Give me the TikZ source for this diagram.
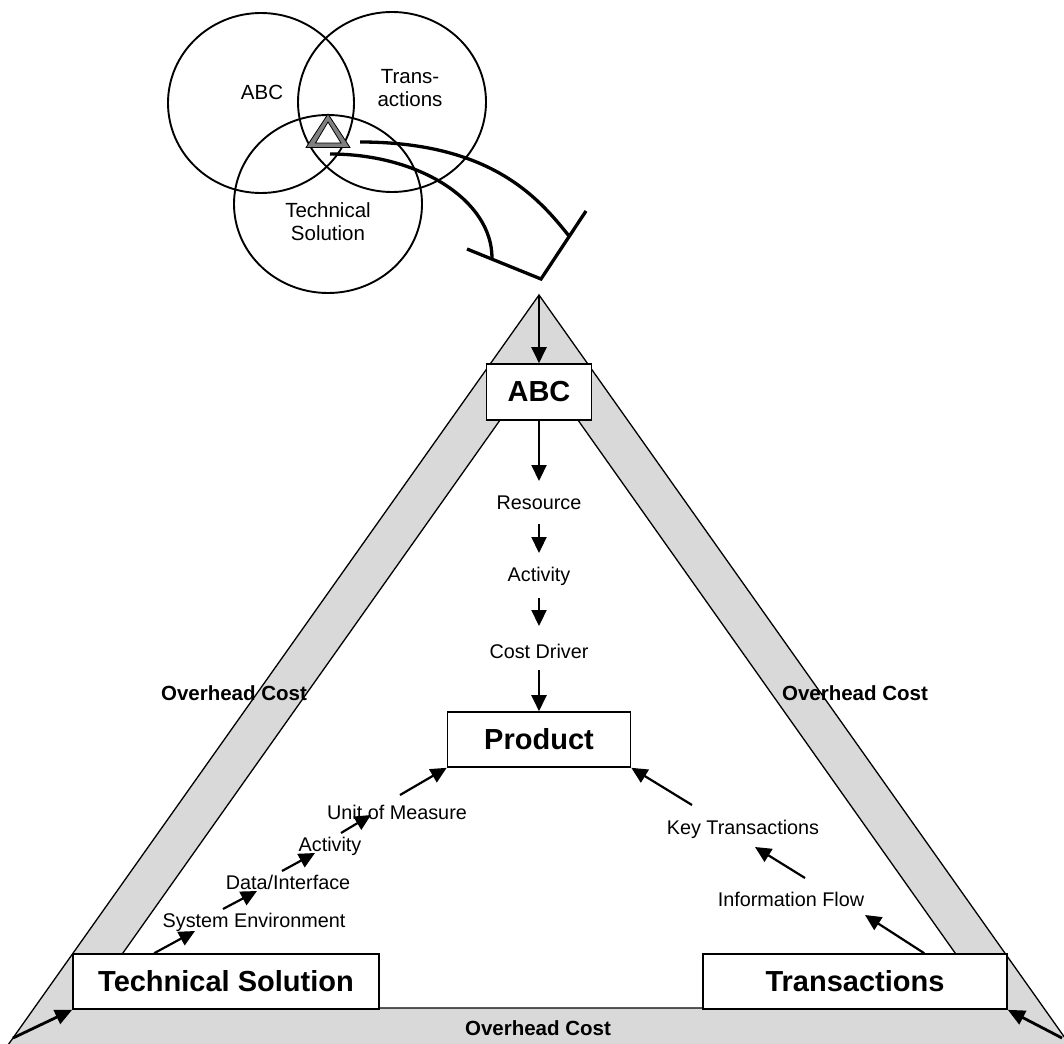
\documentclass[tikz,border=0pt]{standalone}
\usepackage{fontspec}
\setmainfont{Liberation Sans}
\usetikzlibrary{arrows.meta,calc}
\definecolor{bandgray}{RGB}{217,217,217}
\definecolor{markgray}{RGB}{128,128,128}

\begin{document}
\begin{tikzpicture}[x=1pt,y=-1pt,
  arr/.style={line width=2.2pt,-{Triangle[length=16pt,width=15pt]}},
  bigarr/.style={line width=2.8pt,-{Triangle[length=17pt,width=15pt]}},
  box/.style={draw,line width=1.6pt,fill=white,inner sep=0pt,
    font=\fontsize{29}{33}\selectfont\bfseries},
  lbl/.style={inner sep=0pt,font=\fontsize{19.8}{23}\selectfont},
  ovh/.style={inner sep=0pt,font=\fontsize{20.5}{24}\selectfont\bfseries},
  venn/.style={line width=1.9pt},
  vlbl/.style={inner sep=0pt,align=center,font=\fontsize{20.5}{22.5}\selectfont},
  tong/.style={line width=3.3pt}]

\useasboundingbox (0,0) rectangle (1064,1043);

% ---------- Venn diagram of the three views ----------
\draw[venn] (261,103) ellipse [x radius=93pt, y radius=90pt];
\draw[venn] (392,102) ellipse [x radius=94pt, y radius=90pt];
\draw[venn] (328,204) ellipse [x radius=94pt, y radius=89pt];
\node[vlbl] (vabc) at (262,92) {ABC};
\node[vlbl] (vtr) at (410,88) {Trans-\\actions};
\node[vlbl] (vts) at (328,221.5) {Technical\\Solution};

% tongs reaching from the common centre to the pyramid
\draw[tong] (360,142) .. controls (490,142) and (538,197) .. (569,236);
\draw[tong] (330,154) .. controls (419.5,154) and (492,200.6) .. (492,258);
\draw[tong,line join=miter] (467,249) -- (541,279) -- (586,211);

% small triangle marking the intersection
\filldraw[fill=markgray,draw=black,line width=0.8pt]
  (328,114) -- (306,147.5) -- (350,147.5) -- cycle;
\filldraw[fill=white,draw=black,line width=0.8pt]
  (328,122) -- (315.5,143) -- (341,143) -- cycle;

% ---------- overhead cost pyramid ----------
\coordinate (apex) at (539,295);
\fill[bandgray] (apex) -- (7.3,1046) -- (1070.7,1046) -- cycle;
\draw[line width=1.3pt] (7.3,1046) -- (apex) -- (1070.7,1046);
\filldraw[fill=white,line width=1.3pt] (539,365) -- (84,1008) -- (994,1008) -- cycle;

\node[ovh] (ohl) at (234,693) {Overhead Cost};
\node[ovh] (ohr) at (855,693) {Overhead Cost};
\node[ovh] (ohb) at (538,1028) {Overhead Cost};

% corner boxes
\node[box,minimum width=105pt,minimum height=56pt] (abc) at (539,392) {ABC};
\node[box,minimum width=183pt,minimum height=55pt] (prod) at (539,739.5) {Product};
\node[box,minimum width=306pt,minimum height=55pt] (ts) at (226,981.5) {Technical Solution};
\node[box,minimum width=304pt,minimum height=55pt] (tr) at (855,981.5) {Transactions};

% ABC chain
\node[lbl] (res) at (539,503) {Resource};
\node[lbl] (act1) at (539,576) {Activity};
\node[lbl] (cd) at (539,651) {Cost Driver};

% technical solution chain
\node[lbl] (se) at (254,922) {System Environment};
\node[lbl] (di) at (288,882) {Data/Interface};
\node[lbl] (act2) at (330,846) {Activity};
\node[lbl] (uom) at (397,812) {Unit of Measure};

% transactions chain
\node[lbl] (inf) at (791,899) {Information Flow};
\node[lbl] (kt) at (743,829) {Key Transactions};

% connectors
\draw[arr] (apex) -- (abc.north);
\draw[arr] (abc.south) -- ($(res.center)+(0,-22)$);
\draw[arr] ($(res.center)+(0,21)$) -- ($(act1.center)+(0,-23)$);
\draw[arr] ($(act1.center)+(0,22)$) -- ($(cd.center)+(0,-25)$);
\draw[arr] ($(cd.center)+(0,19)$) -- (prod.north);

\draw[arr] ($(ts.north west)+(82,0)$) -- ($(se.center)+(-59,9)$);
\draw[arr] ($(se.center)+(-31,-13)$) -- ($(di.center)+(-31,9)$);
\draw[arr] ($(di.center)+(-6,-11)$) -- ($(act2.center)+(-15,7)$);
\draw[arr] ($(act2.center)+(11,-13)$) -- ($(uom.center)+(-26,3)$);
\draw[arr] ($(uom.center)+(3,-17)$) -- (prod.south west);

\draw[arr] ($(tr.north west)+(222,0)$) -- ($(inf.center)+(74,16)$);
\draw[arr] ($(inf.center)+(14,-21)$) -- ($(kt.center)+(12,18)$);
\draw[arr] ($(kt.center)+(-51,-24)$) -- (prod.south east);

\coordinate (blc) at (13,1038);
\coordinate (brc) at (1062,1038);
\draw[bigarr] (blc) -- (ts.south west);
\draw[bigarr] (brc) -- (tr.south east);
\end{tikzpicture}
\end{document}
